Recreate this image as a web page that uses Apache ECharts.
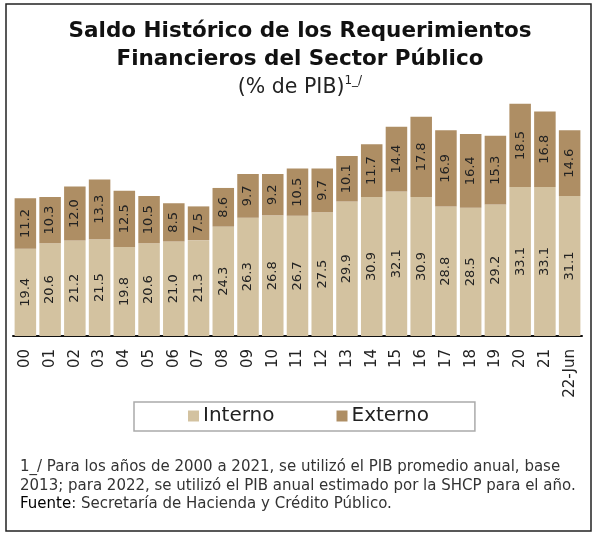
<!DOCTYPE html>
<html><head><meta charset="utf-8">
<script src="https://cdn.jsdelivr.net/npm/echarts@6/dist/echarts.min.js"></script>
<style>html,body{margin:0;padding:0;background:#fff}#c{width:600px;height:537px}</style>
</head><body><div id="c"></div>
<script>
const categories = ['00','01','02','03','04','05','06','07','08','09','10','11','12','13','14','15','16','17','18','19','20','21','22-Jun'];
const interno = [19.4,20.6,21.2,21.5,19.8,20.6,21.0,21.3,24.3,26.3,26.8,26.7,27.5,29.9,30.9,32.1,30.9,28.8,28.5,29.2,33.1,33.1,31.1];
const externo = [11.2,10.3,12.0,13.3,12.5,10.5,8.5,7.5,8.6,9.7,9.2,10.5,9.7,10.1,11.7,14.4,17.8,16.9,16.4,15.3,18.5,16.8,14.6];
const FONT = '"DejaVu Sans", sans-serif';
const chart = echarts.init(document.getElementById('c'));
const lbl = {show:true, position:'inside', rotate:90, fontSize:13, color:'#222', fontFamily:FONT, formatter: p => p.value.toFixed(1)};
chart.setOption({
  animation:false,
  title:{
    text:'Saldo Histórico de los Requerimientos\nFinancieros del Sector Público',
    subtext:'(% de PIB){s|1_/}',
    left:'center', top:12, itemGap:2,
    textStyle:{fontFamily:FONT, fontWeight:'bold', fontSize:21.5, color:'#111', lineHeight:28},
    subtextStyle:{fontFamily:FONT, fontSize:20.5, color:'#222', lineHeight:26, rich:{s:{fontSize:12, color:'#222', fontFamily:FONT, verticalAlign:'top', padding:[0,0,12,0]}}}
  },
  grid:{left:13, right:18, top:66, bottom:201, containLabel:false},
  legend:{
    data:['Interno','Externo'], left:134, top:402, itemWidth:11, itemHeight:11, itemGap:62,
    icon:'rect', borderColor:'#aaa', borderWidth:1.5, padding:[4,46,5,54],
    textStyle:{fontFamily:FONT, fontSize:20, color:'#222', padding:[0,0,0,-1]}
  },
  xAxis:{type:'category', data:categories,
    axisLine:{lineStyle:{color:'#111', width:2}}, axisTick:{show:false},
    axisLabel:{rotate:90, fontFamily:FONT, fontSize:15, color:'#222', margin:13}},
  yAxis:{type:'value', min:0, max:60, show:false, splitLine:{show:false}},
  series:[
    {name:'Interno', type:'bar', stack:'t', data:interno, barCategoryGap:'13%', itemStyle:{color:'#D3C2A0'}, label:lbl},
    {name:'Externo', type:'bar', stack:'t', data:externo, itemStyle:{color:'#AE8E64'}, label:lbl}
  ],
  graphic:[
    {type:'rect', shape:{x:6, y:4, width:585, height:527}, style:{fill:'none', stroke:'#222', lineWidth:1.5}},
    {type:'text', left:20, top:460, style:{text:'1_/ Para los años de 2000 a 2021, se utilizó el PIB promedio anual, base', font:'15px "DejaVu Sans", sans-serif', fill:'#333'}},
    {type:'text', left:20, top:479, style:{text:'2013; para 2022, se utilizó el PIB anual estimado por la SHCP para el año.', font:'15px "DejaVu Sans", sans-serif', fill:'#333'}},
    {type:'text', left:20, top:497, style:{text:'{b|Fuente}: Secretaría de Hacienda y Crédito Público.', font:'15px "DejaVu Sans", sans-serif', fill:'#333', rich:{b:{fontFamily:FONT, fontSize:15, fill:'#000'}}}}
  ]
});
</script></body></html>
